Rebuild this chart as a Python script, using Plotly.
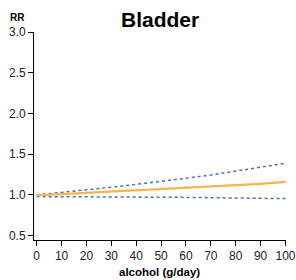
import plotly.graph_objects as go

alcohol = [0, 10, 20, 30, 40, 50, 60, 70, 80, 90, 100]
rr = [0.995, 1.01, 1.025, 1.04, 1.055, 1.07, 1.085, 1.10, 1.115, 1.135, 1.16]
upper = [1.0, 1.03, 1.06, 1.095, 1.13, 1.165, 1.205, 1.245, 1.29, 1.34, 1.39]
lower = [0.98, 0.98, 0.978, 0.976, 0.974, 0.972, 0.97, 0.966, 0.962, 0.958, 0.955]

FONT = "Liberation Sans, Arial, sans-serif"

W, H = 296, 280
l, r, t, b = 34, 10, 32, 40
pw, ph = W - l - r, H - t - b

fig = go.Figure()
fig.add_trace(go.Scatter(x=alcohol, y=upper, mode="lines",
                         line=dict(color="#4470C4", width=1.5, dash="dot")))
fig.add_trace(go.Scatter(x=alcohol, y=lower, mode="lines",
                         line=dict(color="#4470C4", width=1.5, dash="dot")))
fig.add_trace(go.Scatter(x=alcohol, y=rr, mode="lines",
                         line=dict(color="#F7B44C", width=2.2)))


def ann(text, px, py, size):
    return dict(text=text, xref="paper", yref="paper",
                x=(px - l) / pw, y=(H - b - py) / ph,
                xanchor="center", yanchor="middle", showarrow=False,
                font=dict(size=size, color="#000", family=FONT))


fig.update_layout(
    width=W, height=H,
    margin=dict(l=l, r=r, t=t, b=b),
    plot_bgcolor="white", paper_bgcolor="white",
    showlegend=False,
    font=dict(family=FONT, size=11, color="#222"),
    xaxis=dict(range=[-1.085, 100.2], tickvals=alcohol, automargin=False,
               showgrid=False, zeroline=False, showline=True,
               linecolor="#000", linewidth=1, ticks="outside",
               ticklen=5, tickcolor="#000", tickfont=dict(size=12, color="#222")),
    yaxis=dict(range=[0.447, 3.0], tickvals=[0.5, 1.0, 1.5, 2.0, 2.5, 3.0],
               ticktext=["0.5", "1.0", "1.5", "2.0", "2.5", "3.0"], automargin=False,
               showgrid=False, zeroline=False, showline=True,
               linecolor="#000", linewidth=1, ticks="outside",
               ticklen=5, tickcolor="#000", tickfont=dict(size=12, color="#222")),
    annotations=[
        ann("<b>Bladder</b>", 160, 19, 21),
        ann("<b>RR</b>", 17, 17, 10),
        ann("<b>alcohol (g/day)</b>", 159, 272, 11.5),
    ],
)

fig.write_html("out.html", config={"displayModeBar": False},
               post_script="document.body.style.margin='0';document.body.style.overflow='hidden';")
